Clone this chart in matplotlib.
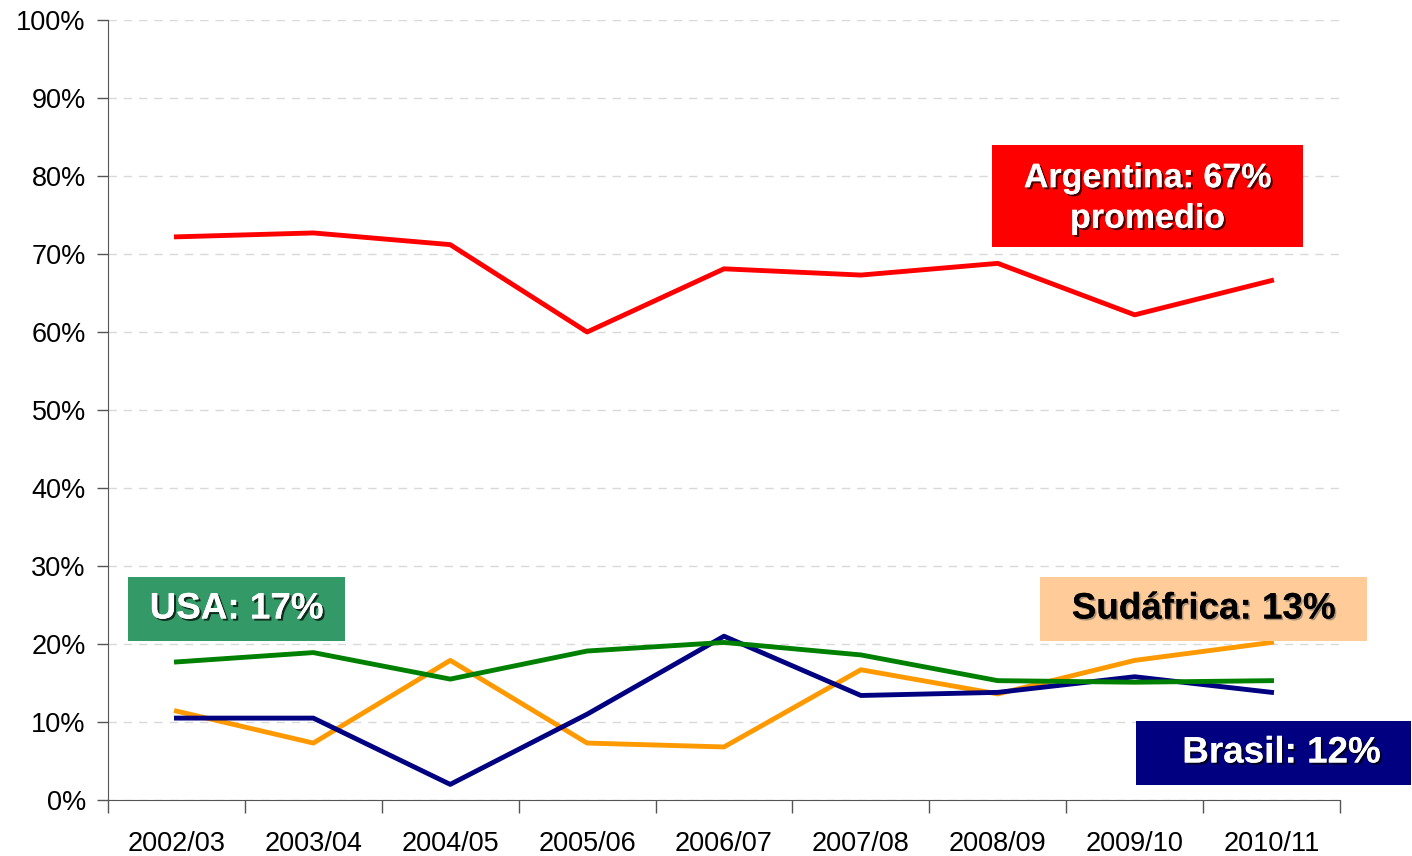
import matplotlib
matplotlib.use("Agg")
import matplotlib.pyplot as plt
import matplotlib.patheffects as pe
from matplotlib.patches import Rectangle
from matplotlib.ticker import FixedLocator, PercentFormatter

plt.rcParams['font.family'] = ['Liberation Sans', 'DejaVu Sans']

# Datos (% de participación)
campanas = ['2002/03', '2003/04', '2004/05', '2005/06', '2006/07',
            '2007/08', '2008/09', '2009/10', '2010/11']
argentina = [72.2, 72.7, 71.2, 60.0, 68.1, 67.3, 68.8, 62.2, 66.6]
usa = [17.7, 18.9, 15.5, 19.1, 20.2, 18.6, 15.3, 15.1, 15.3]
sudafrica = [11.4, 7.3, 17.9, 7.3, 6.8, 16.7, 13.6, 17.9, 20.2]
brasil = [10.5, 10.5, 2.0, 11.0, 21.0, 13.4, 13.8, 15.8, 13.8]

fig = plt.figure(figsize=(14.12, 8.56), dpi=100)
ax = fig.add_axes([108 / 1412, 56 / 856, 1232 / 1412, 780 / 856])

x = list(range(len(campanas)))
ax.plot(x, sudafrica, color='#FF9900', lw=3.5, zorder=3)
ax.plot(x, brasil, color='#000080', lw=3.5, zorder=4)
ax.plot(x, usa, color='#008000', lw=3.5, zorder=5)
ax.plot(x, argentina, color='#FF0000', lw=3.5, zorder=6)

ax.set_xlim(-0.5, len(campanas) - 0.5)
ax.set_ylim(0, 100)
ax.set_yticks(range(0, 101, 10))
ax.yaxis.set_major_formatter(PercentFormatter(decimals=0))
ax.grid(axis='y', color='#D9D9D9', linestyle=(0, (6, 5)), lw=1)
ax.set_axisbelow(True)

# ticks del eje x en los límites de cada campaña, etiquetas centradas
ax.xaxis.set_major_locator(FixedLocator([i - 0.5 for i in range(len(campanas) + 1)]))
ax.xaxis.set_major_formatter(plt.NullFormatter())
ax.xaxis.set_minor_locator(FixedLocator(x))
ax.set_xticklabels(campanas, minor=True)
ax.tick_params(axis='x', which='major', length=9, width=1, color='#555555')
ax.tick_params(axis='x', which='minor', length=0, pad=22, labelsize=19.5)
ax.tick_params(axis='y', length=8, width=1, color='#555555', labelsize=19.5, pad=8)

for s in ['top', 'right']:
    ax.spines[s].set_visible(False)
for s in ['left', 'bottom']:
    ax.spines[s].set_color('#555555')

# Cajas de texto
sombra = [pe.withSimplePatchShadow(offset=(1.5, -1.5), shadow_rgbFace='black', alpha=0.7), pe.Normal()]
sombra_clara = [pe.withSimplePatchShadow(offset=(1.2, -1.2), shadow_rgbFace='#555555', alpha=0.5), pe.Normal()]


def caja(x0, y0, x1, y1, color, texto, color_texto, efectos, tam=26.5, dx=0, dy=0, interl=1.25):
    W, H = 1412, 856
    fig.patches.append(Rectangle((x0 / W, 1 - y1 / H), (x1 - x0) / W, (y1 - y0) / H,
                                 transform=fig.transFigure, facecolor=color,
                                 edgecolor='none', zorder=10))
    fig.text(((x0 + x1) / 2 + dx) / W, 1 - ((y0 + y1) / 2 + dy) / H, texto, ha='center', va='center',
             fontsize=tam, fontweight='bold', color=color_texto, linespacing=interl,
             zorder=11, path_effects=efectos)


caja(992, 145, 1303, 247, '#FF0000', 'Argentina: 67%\npromedio', 'white', sombra,
     tam=24.5, dy=3, interl=1.4)
caja(128, 577, 345, 641, '#339966', 'USA: 17%', 'white', sombra)
caja(1040, 577, 1367, 641, '#FFCC99', 'Sudáfrica: 13%', 'black', sombra_clara)
caja(1136, 721, 1411, 785, '#000080', 'Brasil: 12%', 'white', sombra, dx=8)

fig.savefig('out.png', dpi=100)
